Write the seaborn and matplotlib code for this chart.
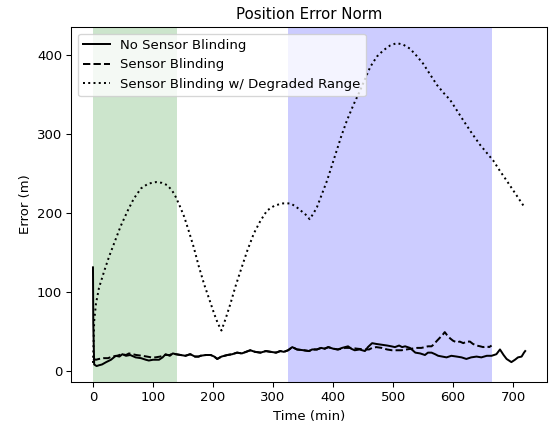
import matplotlib
matplotlib.use("Agg")
import matplotlib.pyplot as plt
from matplotlib.ticker import MultipleLocator
import seaborn as sns
import pandas as pd

## donnees

# pas de capteur aveugle (trait plein)
t_none = [0, 0.5, 2, 6, 10, 15, 22, 30, 38, 44, 49, 55, 62, 71, 80, 88, 93, 100, 110, 116,
          121, 128, 133, 138, 146, 154, 162, 170, 176, 179, 188, 196, 202, 207, 214, 224, 232,
          240, 248, 255, 262, 270, 279, 288, 296, 305, 312, 318, 325, 332, 340, 351, 360, 365,
          373, 380, 386, 392, 400, 408, 415, 420, 425, 430, 436, 444, 453, 458, 465, 472, 481,
          490, 497, 503, 510, 515, 520, 528, 537, 545, 553, 558, 564, 570, 575, 582, 589, 597,
          606, 614, 622, 630, 639, 647, 656, 664, 672, 678, 684, 689, 697, 703, 708, 714, 718, 720]
e_none = [131, 60, 8, 6, 7, 8, 11, 14, 19, 18, 21, 19, 20, 17, 16, 14, 13, 14, 14, 17,
          21, 19, 22, 21, 20, 19, 21, 18, 18, 19, 20, 20, 18, 15, 18, 20, 21,
          23, 22, 24, 26, 24, 23, 25, 24, 23, 25, 24, 26, 30, 27, 26, 25, 27,
          27, 29, 28, 30, 28, 27, 29, 30, 31, 28, 26, 27, 25, 30, 35, 34, 33,
          32, 31, 30, 32, 30, 31, 29, 23, 22, 20, 23, 23, 21, 19, 18, 17, 19,
          18, 17, 15, 17, 18, 17, 19, 19, 21, 27, 20, 15, 11, 14, 17, 18, 23, 25]

# capteur aveugle (tirets)
t_blind = [0, 5, 10, 18, 25, 32, 40, 48, 55, 60, 66, 72, 82, 90, 97, 104, 112, 120, 128, 133,
           138, 146, 154, 162, 170, 176, 179, 188, 196, 202, 207, 214, 224, 232, 240, 248, 255,
           262, 270, 279, 288, 296, 305, 312, 318, 325, 332, 340, 351, 360, 365, 373, 380, 386,
           392, 400, 408, 415, 420, 430, 440, 453, 460, 465, 472, 481, 490, 498, 506, 514, 522,
           531, 540, 547, 553, 558, 564, 567, 573, 578, 583, 586, 590, 595, 600, 606, 611, 617,
           622, 628, 633, 639, 645, 650, 656, 660, 664]
e_blind = [15, 14, 15, 16, 16, 18, 19, 21, 20, 22, 21, 20, 19, 18, 17, 17, 18, 20, 20, 22,
           21, 20, 19, 21, 18, 18, 19, 20, 20, 18, 15, 18, 20, 21, 23, 22, 24,
           26, 24, 23, 25, 24, 23, 25, 24, 26, 30, 27, 26, 25, 27, 27, 29, 28,
           30, 28, 27, 28, 29, 29, 28, 27, 27, 29, 30, 29, 27, 26, 26, 26, 27,
           28, 29, 29, 30, 31, 31, 33, 38, 42, 46, 49, 45, 41, 38, 36, 37, 35,
           37, 37, 34, 32, 31, 30, 31, 30, 32]

# capteur aveugle + portee degradee (pointilles)
t_degr = [0, 1, 2, 5, 10, 19, 27, 35, 46, 58, 68, 80, 92, 105, 115, 124, 132, 138, 145, 152,
          160, 168, 176, 185, 194, 202, 208, 214, 221, 229, 237, 246, 257, 268, 279, 290, 302,
          315, 329, 338, 346, 354, 361, 367, 373, 381, 390, 398, 406, 414, 423, 434, 445, 454,
          462, 473, 484, 495, 506, 517, 528, 539, 550, 561, 573, 584, 595, 606, 617, 631, 645,
          656, 667, 678, 689, 704, 719]
e_degr = [10, 35, 63, 85, 105, 127, 145, 161, 183, 203, 218, 231, 237, 239, 238, 235, 228, 220, 208, 195,
          176, 156, 133, 110, 90, 72, 60, 51, 66, 85, 106, 127, 152, 174, 190, 203, 209,
          212, 212, 208, 203, 198, 192, 199, 207, 223, 241, 260, 279, 298, 317, 337, 355, 371,
          385, 398, 406, 412, 415, 413, 408, 399, 389, 376, 362, 352, 343, 330, 317, 301, 286,
          276, 266, 253, 241, 224, 207]

labels = ["No Sensor Blinding", "Sensor Blinding", "Sensor Blinding w/ Degraded Range"]

df_none = pd.DataFrame({"t": t_none, "err": e_none})
df_blind = pd.DataFrame({"t": t_blind, "err": e_blind})
df_degr = pd.DataFrame({"t": t_degr, "err": e_degr})

dpi = 95
fig = plt.figure(figsize=(549 / dpi, 428 / dpi), dpi=dpi)
ax = fig.add_subplot(111)
fig.subplots_adjust(left=0.130, right=0.996, bottom=0.107, top=0.937)

# zones d'aveuglement
ax.axvspan(0, 140, color="green", alpha=0.2, lw=0)
ax.axvspan(325, 665, color="blue", alpha=0.2, lw=0)

sns.lineplot(data=df_none, x="t", y="err", ax=ax, color="k", linestyle="-", label=labels[0])
sns.lineplot(data=df_blind, x="t", y="err", ax=ax, color="k", linestyle="--", label=labels[1])
sns.lineplot(data=df_degr, x="t", y="err", ax=ax, color="k", linestyle=":", label=labels[2])

ax.yaxis.set_major_locator(MultipleLocator(100))
ax.xaxis.set_major_locator(MultipleLocator(100))
ax.set_title("Position Error Norm", fontsize=11.4)
ax.set_xlabel("Time (min)")
ax.set_ylabel("Error (m)")
ax.legend(loc="upper left")

fig.savefig("out.png", dpi=dpi)
